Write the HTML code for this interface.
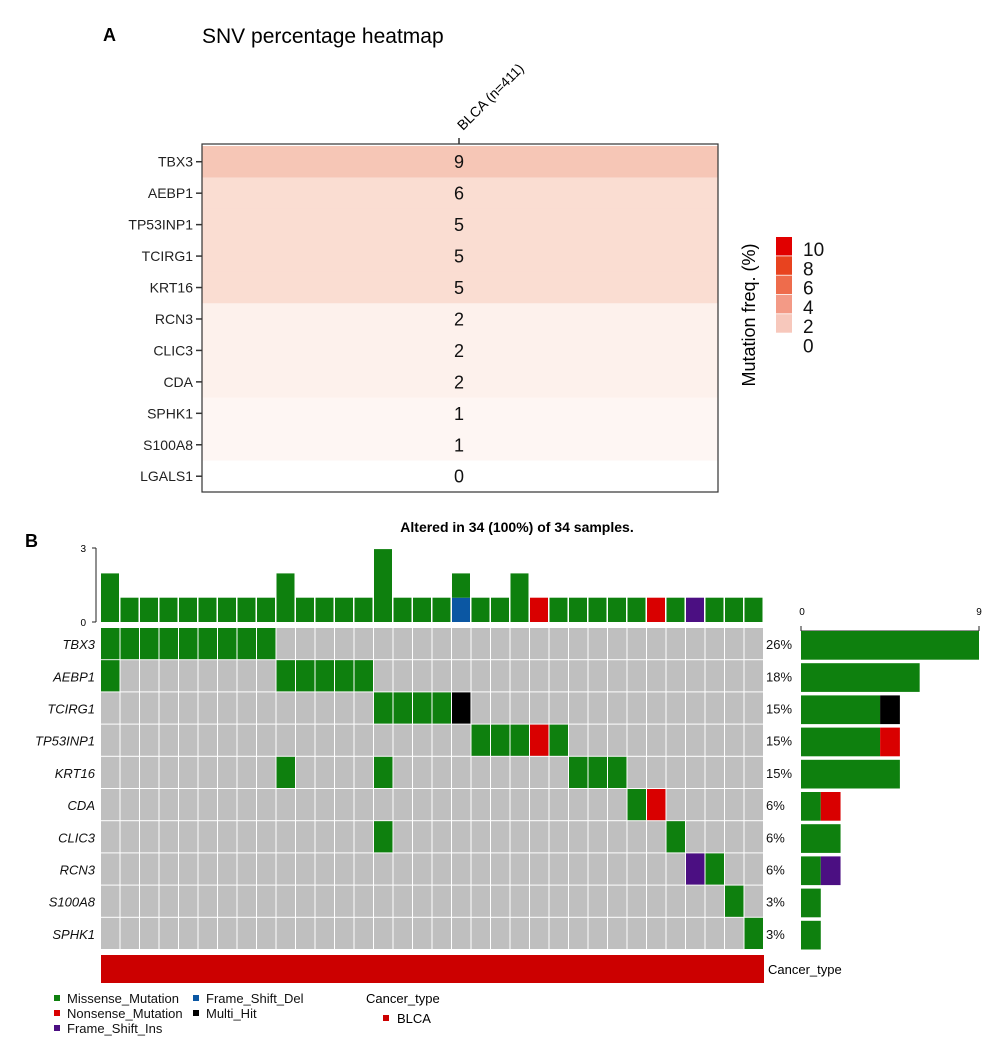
<!DOCTYPE html>
<html><head><meta charset="utf-8"><style>
body{margin:0;background:#fff;}
svg{display:block;font-family:"Liberation Sans",Arial,sans-serif;}
</style></head><body>
<svg id="fig" width="1003" height="1062" viewBox="0 0 1003 1062" xmlns="http://www.w3.org/2000/svg">
<text x="103" y="41" font-size="18" font-weight="bold">A</text>
<text x="202" y="43" font-size="21">SNV percentage heatmap</text>
<g id="heat"></g>
<rect x="202" y="144" width="516" height="348" fill="none" stroke="#333" stroke-width="1.2"/>
<line x1="459" y1="138" x2="459" y2="144" stroke="#333" stroke-width="1.5"/>
<text transform="translate(463,131) rotate(-45)" font-size="14">BLCA (n=411)</text>
<g id="hleg"></g>
<text transform="translate(755,315) rotate(-90)" font-size="18" text-anchor="middle">Mutation freq. (%)</text>

<text x="25" y="547" font-size="18" font-weight="bold">B</text>
<text x="517" y="532" font-size="14" font-weight="bold" text-anchor="middle">Altered in 34 (100%) of 34 samples.</text>
<g id="onco"></g>
<g id="leg2"></g>
</svg>
<script>
// Panel A data
const hGenes=["TBX3","AEBP1","TP53INP1","TCIRG1","KRT16","RCN3","CLIC3","CDA","SPHK1","S100A8","LGALS1"];
const hValues=[9,6,5,5,5,2,2,2,1,1,0];
const legendTicks=["10","8","6","4","2","0"];
// Panel B data
const oGenes=["TBX3","AEBP1","TCIRG1","TP53INP1","KRT16","CDA","CLIC3","RCN3","S100A8","SPHK1"];
const oPct=["26%","18%","15%","15%","15%","6%","6%","6%","3%","3%"];
const nSamples=34;
// matrix entries: [geneIndex, sampleIndex, type]
const cells=[
[0,0,"M"],[0,1,"M"],[0,2,"M"],[0,3,"M"],[0,4,"M"],[0,5,"M"],[0,6,"M"],[0,7,"M"],[0,8,"M"],
[1,0,"M"],[1,9,"M"],[1,10,"M"],[1,11,"M"],[1,12,"M"],[1,13,"M"],
[2,14,"M"],[2,15,"M"],[2,16,"M"],[2,17,"M"],[2,18,"H"],
[3,19,"M"],[3,20,"M"],[3,21,"M"],[3,22,"N"],[3,23,"M"],
[4,9,"M"],[4,14,"M"],[4,24,"M"],[4,25,"M"],[4,26,"M"],
[5,27,"M"],[5,28,"N"],
[6,14,"M"],[6,29,"M"],
[7,30,"I"],[7,31,"M"],
[8,32,"M"],[9,33,"M"]];
// top bar: per-sample stacked counts
const topMissense=[2,1,1,1,1,1,1,1,1,2,1,1,1,1,3,1,1,1,1,1,1,2,0,1,1,1,1,1,0,1,0,1,1,1];
const topNonsense=[0,0,0,0,0,0,0,0,0,0,0,0,0,0,0,0,0,0,0,0,0,0,1,0,0,0,0,0,1,0,0,0,0,0];
const topDel=[0,0,0,0,0,0,0,0,0,0,0,0,0,0,0,0,0,0,1,0,0,0,0,0,0,0,0,0,0,0,0,0,0,0];
const topIns=[0,0,0,0,0,0,0,0,0,0,0,0,0,0,0,0,0,0,0,0,0,0,0,0,0,0,0,0,0,0,1,0,0,0];
// right bar: per-gene stacked counts
const sideMissense=[9,6,4,4,5,1,2,1,1,1];
const sideOther=[0,0,1,1,0,1,0,1,0,0];
const sideOtherType=["M","M","H","N","M","N","M","I","M","M"];

const COL={M:"#0E800E",N:"#D90000",I:"#4B0F82",D:"#0B57A3",H:"#000000"};
const NS="http://www.w3.org/2000/svg";
function mk(parent,tag,attrs,txt){const e=document.createElementNS(NS,tag);for(const k in attrs)e.setAttribute(k,attrs[k]);if(txt!==undefined)e.textContent=txt;parent.appendChild(e);return e;}

// ---- Panel A ----
const heat=document.getElementById('heat');
const hTop=146,hRow=31.45,hLeft=202,hRight=718;
const hy=i=>hTop+i*hRow;
function heatColor(v){if(v>=8)return"#F6C6B6";if(v>=5)return"#FADDD2";if(v>=2)return"#FDF1EC";if(v>=1)return"#FEF6F3";return"#FFFFFF";}
hGenes.forEach((g,i)=>{
  const r=mk(heat,'rect',{x:hLeft,y:hy(i),width:hRight-hLeft,height:hRow+0.5,fill:heatColor(hValues[i])});
  
  
  const t=mk(heat,'text',{x:459,y:hy(i)+hRow/2+6.5,'font-size':18,'text-anchor':'middle',fill:'#111'},String(hValues[i]));
  
  
  const l=mk(heat,'text',{x:193,y:hy(i)+hRow/2+5,'font-size':14,'text-anchor':'end',fill:'#222'},g);
  
  
  mk(heat,'line',{x1:196,x2:202,y1:hy(i)+hRow/2,y2:hy(i)+hRow/2,stroke:'#333','stroke-width':1.5});
});
const hleg=document.getElementById('hleg');
const legCols=["#E10000","#E8431F","#EE6C4C","#F39A86","#F7C8BC"];
legCols.forEach((c,i)=>{
  const r=mk(hleg,'rect',{x:776,y:237+i*19.3,width:16,height:18.5,fill:c});
  
  
});
legendTicks.forEach((t,i)=>{
  const e=mk(hleg,'text',{x:803,y:256+i*19.3,'font-size':19,fill:'#111'},t);
  
  
});

// ---- Panel B ----
const onco=document.getElementById('onco');
const gL=101,gR=764,gT=628,gB=950;
const cw=(gR-gL)/nSamples, rh=(gB-gT)/oGenes.length;
const cx=j=>gL+j*cw, ry=i=>gT+i*rh;
// background grid
oGenes.forEach((g,i)=>{
  for(let j=0;j<nSamples;j++){
    mk(onco,'rect',{x:cx(j),y:ry(i),width:cw-1,height:rh-1,fill:'#BFBFBF'});
  }
  const l=mk(onco,'text',{x:95,y:ry(i)+rh/2+5,'font-size':13,'font-style':'italic','text-anchor':'end',fill:'#111'},g);
  
  
  const p=mk(onco,'text',{x:766,y:ry(i)+rh/2+5,'font-size':13,fill:'#111'},oPct[i]);
  
  
});
cells.forEach(c=>{
  const r=mk(onco,'rect',{x:cx(c[1]),y:ry(c[0]),width:cw-1,height:rh-1,fill:COL[c[2]]});
  
  
});
// top bars
const tB=622,tU=24.3;
mk(onco,'line',{x1:96,x2:96,y1:548,y2:622,stroke:'#222','stroke-width':1});
mk(onco,'line',{x1:92,x2:96,y1:548,y2:548,stroke:'#222'});
mk(onco,'line',{x1:92,x2:96,y1:622,y2:622,stroke:'#222'});
mk(onco,'text',{x:86,y:552,'font-size':10,'text-anchor':'end'},'3');
mk(onco,'text',{x:86,y:626,'font-size':10,'text-anchor':'end'},'0');
for(let j=0;j<nSamples;j++){
  let y=tB;
  [[topDel[j],"D"],[topNonsense[j],"N"],[topIns[j],"I"],[topMissense[j],"M"]].forEach(([v,t])=>{
    if(v>0){const h=v*tU;y-=h;
      const r=mk(onco,'rect',{x:cx(j),y:y,width:cw-1.5,height:h,fill:COL[t]});
      
      }
  });
}
// side bars
const sL=801,sU=(979-801)/9;
mk(onco,'line',{x1:801,x2:979,y1:631,y2:631,stroke:'#222'});
mk(onco,'line',{x1:801,x2:801,y1:626,y2:631,stroke:'#222'});
mk(onco,'line',{x1:979,x2:979,y1:626,y2:631,stroke:'#222'});
mk(onco,'text',{x:802,y:615,'font-size':10,'text-anchor':'middle'},'0');
mk(onco,'text',{x:979,y:615,'font-size':10,'text-anchor':'middle'},'9');
oGenes.forEach((g,i)=>{
  const w1=sideMissense[i]*sU;
  const r=mk(onco,'rect',{x:sL,y:ry(i)+3,width:w1,height:rh-3.5,fill:COL.M});
  
  
  if(sideOther[i]>0){
    const r2=mk(onco,'rect',{x:sL+w1,y:ry(i)+3,width:sideOther[i]*sU,height:rh-3.5,fill:COL[sideOtherType[i]]});
    
    
  }
});
// cancer type bar
const ct=mk(onco,'rect',{x:gL,y:955,width:gR-gL,height:28,fill:'#CC0000'});


mk(onco,'text',{x:768,y:974,'font-size':13},'Cancer_type');

// legend
const leg=document.getElementById('leg2');
[["Missense_Mutation","M",57,998],["Nonsense_Mutation","N",57,1013],["Frame_Shift_Ins","I",57,1028],["Frame_Shift_Del","D",196,998],["Multi_Hit","H",196,1013]].forEach(([n,t,x,y])=>{
  mk(leg,'rect',{x:x-3,y:y-3,width:6,height:6,fill:COL[t]});
  const e=mk(leg,'text',{x:x+10,y:y+5,'font-size':13,fill:'#111'},n);
  
  
});
mk(leg,'text',{x:366,y:1003,'font-size':13},'Cancer_type');
mk(leg,'rect',{x:383,y:1015,width:6,height:6,fill:'#CC0000'});
const bl=mk(leg,'text',{x:397,y:1023,'font-size':13},'BLCA');


</script>
</body></html>
